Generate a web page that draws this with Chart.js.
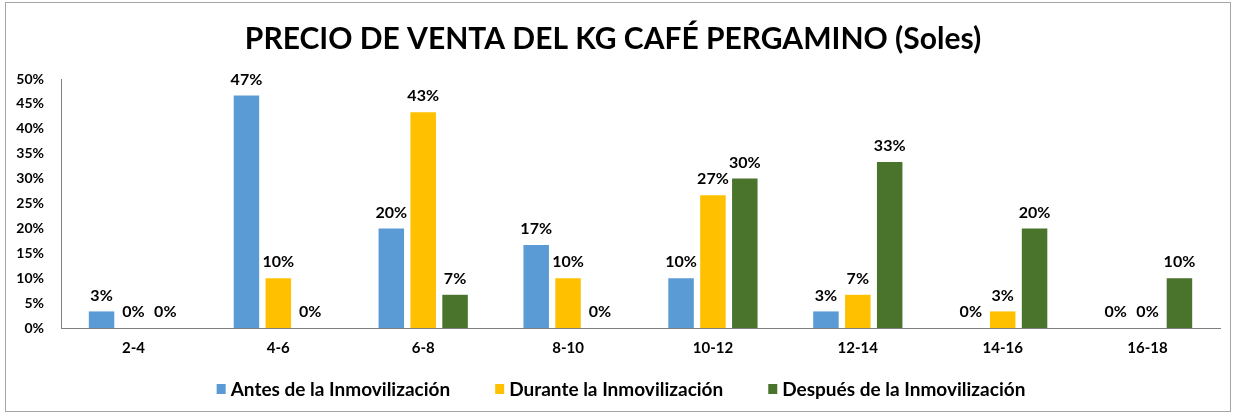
<!DOCTYPE html>
<html>
<head>
<meta charset="utf-8">
<script src="https://cdn.jsdelivr.net/npm/chart.js@4"></script>
<style>
  html, body { margin: 0; padding: 0; background: #fff; }
  #wrap { position: absolute; left: 5px; top: 2px; width: 1226px; height: 410px; border: 1px solid #a6a6a6; box-sizing: border-box; }
  canvas { display: block; }
</style>
</head>
<body>
<div id="wrap"><canvas id="chart"></canvas></div>
<script>
const categories = ["2-4", "4-6", "6-8", "8-10", "10-12", "12-14", "14-16", "16-18"]
const antes = [3.33, 46.67, 20, 16.67, 10, 3.33, 0, 0]
const durante = [0, 10, 43.33, 10, 26.67, 6.67, 3.33, 0]
const despues = [0, 0, 6.67, 0, 30, 33.33, 20, 10]
const yTicks = [0, 5, 10, 15, 20, 25, 30, 35, 40, 45, 50]

const FONT = "Lato, 'Open Sans', sans-serif"

// draws the % value above each bar
const valueLabels = {
  id: 'valueLabels',
  afterDatasetsDraw(chart) {
    const ctx = chart.ctx
    ctx.save()
    ctx.font = "bold 16px " + FONT
    ctx.fillStyle = '#000'
    ctx.textAlign = 'center'
    ctx.textBaseline = 'bottom'
    chart.data.datasets.forEach((ds, i) => {
      chart.getDatasetMeta(i).data.forEach((bar, j) => {
        ctx.fillText(Math.round(ds.data[j]) + '%', bar.x, bar.y - 8)
      })
    })
    ctx.restore()
  }
}

// legend drawn by hand so the item spacing can be wide without eating vertical space
const bottomLegend = {
  id: 'bottomLegend',
  afterDraw(chart) {
    const ctx = chart.ctx
    const items = chart.data.datasets
    const box = 9, boxH = 10, textGap = 5, itemGap = 45
    ctx.save()
    ctx.font = "bold 19px " + FONT
    const widths = items.map(ds => box + textGap + ctx.measureText(ds.label).width)
    const total = widths.reduce((a, b) => a + b, 0) + itemGap * (items.length - 1)
    let x = chart.width / 2 - total / 2 + 3
    const y = chart.height - 22
    ctx.textBaseline = 'middle'
    ctx.textAlign = 'left'
    items.forEach((ds, i) => {
      ctx.fillStyle = ds.backgroundColor
      ctx.fillRect(x, y - boxH / 2, box, boxH)
      ctx.fillStyle = '#000'
      ctx.fillText(ds.label, x + box + textGap, y + 1)
      x += widths[i] + itemGap
    })
    ctx.restore()
  }
}

const ctx = document.getElementById('chart').getContext('2d')
new Chart(ctx, {
  type: 'bar',
  data: {
    labels: categories,
    datasets: [
      { label: 'Antes de la Inmovilización', data: antes, backgroundColor: '#5b9bd5' },
      { label: 'Durante la Inmovilización', data: durante, backgroundColor: '#ffc000' },
      { label: 'Después de la Inmovilización', data: despues, backgroundColor: '#4a732b' }
    ]
  },
  options: {
    responsive: true,
    maintainAspectRatio: false,
    animation: false,
    categoryPercentage: 0.66,
    barPercentage: 0.8,
    layout: { padding: { left: 0, right: 10, top: 4, bottom: 43 } },
    plugins: {
      title: {
        display: true,
        text: 'PRECIO DE VENTA DEL KG CAFÉ PERGAMINO (Soles)',
        color: '#000',
        font: { family: FONT, size: 30, weight: 'bold' },
        padding: { top: 14, bottom: 22 }
      },
      legend: { display: false },
      tooltip: { enabled: false }
    },
    scales: {
      x: {
        grid: { display: false, drawTicks: false },
        border: { color: '#7f7f7f', width: 1 },
        ticks: { color: '#000', font: { family: FONT, size: 15, weight: 'bold' }, padding: 11 }
      },
      y: {
        min: 0,
        max: 50,
        grid: { display: false, drawTicks: false },
        border: { color: '#7f7f7f', width: 1 },
        afterBuildTicks(axis) { axis.ticks = yTicks.map(v => ({ value: v })) },
        afterFit(axis) { axis.width = 55 },
        ticks: {
          color: '#000',
          font: { family: FONT, size: 14, weight: 'bold' },
          padding: 17,
          callback: v => v + '%'
        }
      }
    }
  },
  plugins: [valueLabels, bottomLegend]
})
</script>
</body>
</html>
